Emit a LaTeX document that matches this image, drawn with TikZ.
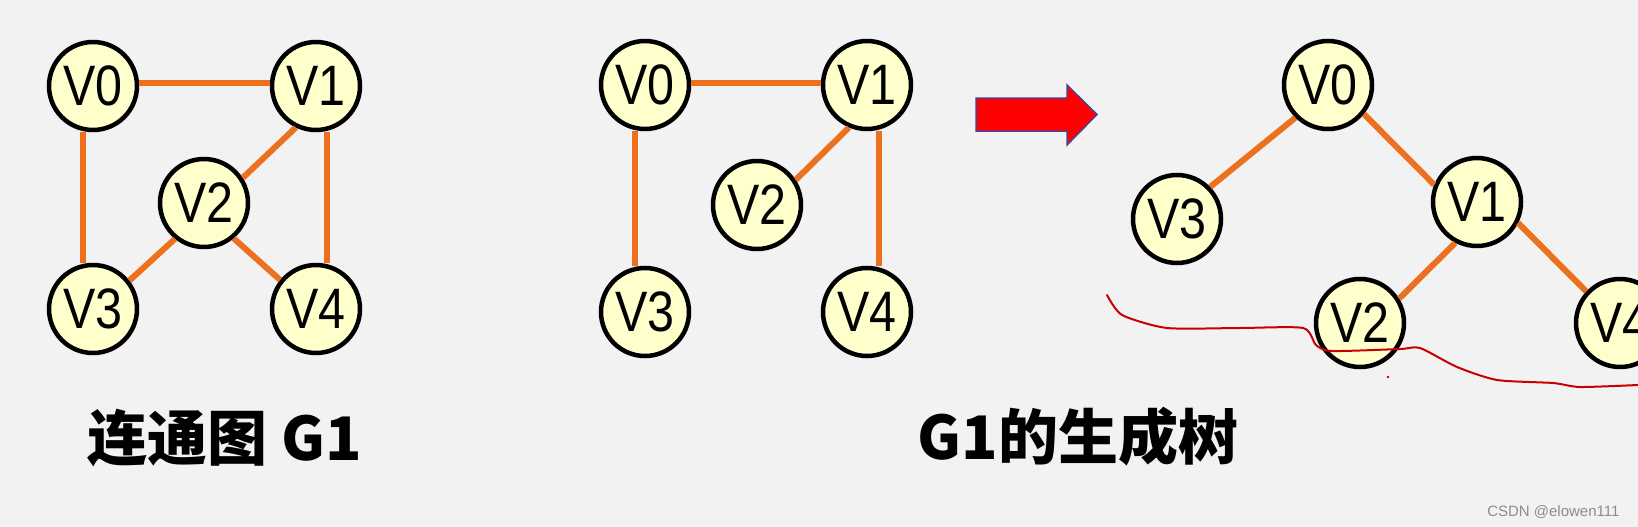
\documentclass[tikz,border=0pt]{standalone}
\usepackage{fontspec}
\newfontfamily\vfont[FakeStretch=0.85]{Liberation Sans}
\newfontfamily\cjk{Noto Sans CJK SC}
\newfontfamily\wmfont{Liberation Sans}
\definecolor{bgc}{RGB}{242,242,243}
\definecolor{nodefill}{RGB}{255,255,204}
\definecolor{edgeorange}{RGB}{236,112,30}
\definecolor{arrowred}{RGB}{255,0,0}
\definecolor{arrowline}{RGB}{90,60,140}
\definecolor{penred}{RGB}{200,0,0}
\tikzset{
  vtx/.style={circle, draw=black, line width=4.5pt, fill=nodefill, minimum size=88pt, inner sep=0pt,
    font=\vfont\fontsize{57}{57}\selectfont},
  edge/.style={draw=edgeorange, line width=6pt},
  title/.style={font=\cjk\bfseries\fontsize{60}{60}\selectfont, text=black},
}
\begin{document}
\begin{tikzpicture}[x=1pt,y=-1pt]
\fill[bgc] (0,0) rectangle (1638,527);
\useasboundingbox (0,0) rectangle (1638,527);
\clip (0,0) rectangle (1638,527);

% Graph 1
\node[vtx] (a0) at (93,86) {V0};
\node[vtx] (a1) at (316,86) {V1};
\node[vtx] (a2) at (204,203) {V2};
\node[vtx] (a3) at (93,309) {V3};
\node[vtx] (a4) at (316,309) {V4};
\draw[edge] ([yshift=3pt]a0.east) -- ([yshift=3pt]a1.west);
\draw[edge] ([xshift=-10pt]a0.south) -- ([xshift=-10pt]a3.north);
\draw[edge] ([xshift=11pt]a1.south) -- ([xshift=11pt]a4.north);
\draw[edge] (a1.244) -- (a2.33);
\draw[edge] (a2.231) -- (a3.38);
\draw[edge] (a2.310) -- (a4.141);
\node[title] (t1) at (225,438) {连通图 G1};

% Graph 2
\node[vtx] (b0) at (645,85) {V0};
\node[vtx] (b1) at (867,85) {V1};
\node[vtx] (b2) at (757,205) {V2};
\node[vtx] (b3) at (645,312) {V3};
\node[vtx] (b4) at (867,312) {V4};
\draw[edge] ([yshift=2pt]b0.east) -- ([yshift=2pt]b1.west);
\draw[edge] ([xshift=-10pt]b0.south) -- ([xshift=-10pt]b3.north);
\draw[edge] ([xshift=12pt]b1.south) -- ([xshift=12pt]b4.north);
\draw[edge] (b1.247) -- (b2.33);

% Arrow
\filldraw[fill=arrowred, draw=arrowline, line width=1.5pt, line join=miter]
  (976,98) -- (1067,98) -- (1067,85) -- (1097,114.5) -- (1067,145) -- (1067,131) -- (976,131) -- cycle;

% Graph 3 (spanning tree)
\node[vtx] (c0) at (1328,85) {V0};
\node[vtx] (c1) at (1477,202) {V1};
\node[vtx] (c2) at (1360,323) {V2};
\node[vtx] (c3) at (1177,219) {V3};
\node[vtx] (c4) at (1620,323) {V4};
\draw[edge] (c0.225) -- (c3.44);
\draw[edge] (c0.-39) -- (c1.158);
\draw[edge] (c1.242) -- (c2.32);
\draw[edge] (c1.333) -- (c4.137);
\node[title] (t2) at (1078,437) {G1的生成树};

% hand-drawn red line
\draw[penred, line width=2pt, line cap=round, line join=round]
  plot[smooth, tension=0.4] coordinates {(1107,295) (1122,315) (1167,328) (1240,328) (1303,328) (1316,345) (1332,351) (1400,349) (1420,348) (1457,367) (1497,380) (1553,383) (1580,387) (1638,385)};
\fill[penred] (1388,377) circle (1.3pt);

% watermark
\node[anchor=east, font=\wmfont\fontsize{15}{15}\selectfont, text=black!45] (wm) at (1623,512) {CSDN @elowen111};
\end{tikzpicture}
\end{document}
